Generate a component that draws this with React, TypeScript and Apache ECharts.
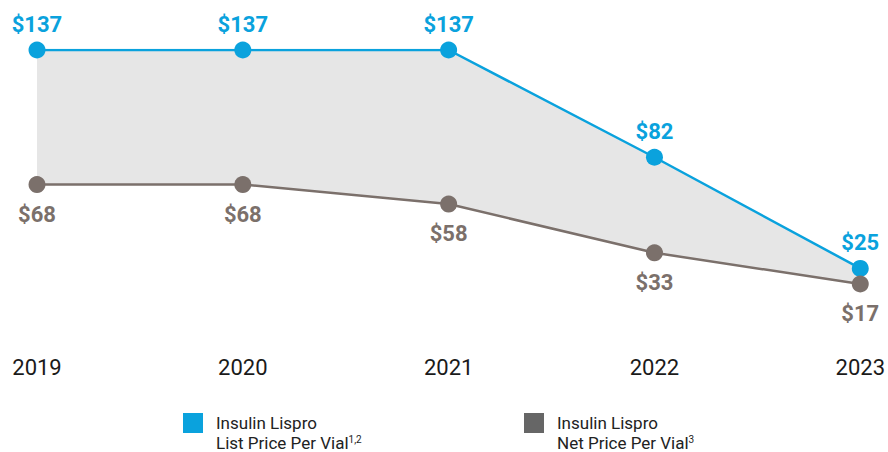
import React, { useEffect, useRef } from "react";
import * as echarts from "echarts";

const years = ["2019", "2020", "2021", "2022", "2023"];
const listPrice = [137, 137, 137, 82, 25];
const netPrice = [68, 68, 58, 33, 17];

const LIST_NAME = "Insulin Lispro List Price Per Vial";
const NET_NAME = "Insulin Lispro Net Price Per Vial";

const BLUE = "#0aa2dd";
const BROWN = "#7b706b";
const FONT = "Roboto, 'DejaVu Sans', sans-serif";

export default function App() {
  const ref = useRef<HTMLDivElement>(null);
  useEffect(() => {
    document.body.style.margin = "0";
    if (!ref.current) return;
    const chart = echarts.init(ref.current, undefined, { renderer: "svg" });
    const band = listPrice.map((v, i) => v - netPrice[i]);
    const legendText = {
      fontSize: 17,
      color: "#222",
      lineHeight: 20,
      fontFamily: FONT,
      padding: [20, 0, 0, 8],
      rich: {
        sup: { fontSize: 10, color: "#222", fontFamily: FONT, padding: [0, 0, 8, 0] },
      },
    };
    const fmt = (name: string) =>
      name === LIST_NAME
        ? "Insulin Lispro\nList Price Per Vial{sup|1,2}"
        : "Insulin Lispro\nNet Price Per Vial{sup|3}";
    chart.setOption({
      animation: false,
      grid: { left: 37, right: 27, top: 50, bottom: 168 },
      legend: [
        {
          data: [{ name: LIST_NAME, itemStyle: { color: BLUE } }],
          left: 178,
          top: 388,
          icon: "rect",
          itemWidth: 20,
          itemHeight: 20,
          selectedMode: false,
          formatter: fmt,
          textStyle: legendText,
        },
        {
          data: [{ name: NET_NAME, itemStyle: { color: "#666666" } }],
          left: 519,
          top: 388,
          icon: "rect",
          itemWidth: 20,
          itemHeight: 20,
          selectedMode: false,
          formatter: fmt,
          textStyle: legendText,
        },
      ],
      xAxis: {
        type: "category",
        data: years,
        boundaryGap: false,
        axisLine: { show: false },
        axisTick: { show: false },
        axisLabel: {
          margin: 72,
          fontSize: 22,
          color: "#1a1a1a",
          fontFamily: FONT,
          verticalAlign: "top",
        },
      },
      yAxis: {
        type: "value",
        min: Math.min(...netPrice),
        max: Math.max(...listPrice),
        show: false,
        splitLine: { show: false },
      },
      series: [
        {
          name: "band-base",
          type: "line",
          data: netPrice,
          stack: "band",
          symbol: "none",
          lineStyle: { opacity: 0 },
          silent: true,
          z: 1,
        },
        {
          name: "band-fill",
          type: "line",
          data: band,
          stack: "band",
          symbol: "none",
          lineStyle: { opacity: 0 },
          areaStyle: { color: "#e6e6e6", opacity: 1 },
          silent: true,
          z: 1,
        },
        {
          name: LIST_NAME,
          type: "line",
          data: listPrice,
          color: BLUE,
          symbol: "circle",
          symbolSize: 17,
          lineStyle: { width: 2.5, color: BLUE },
          itemStyle: { color: BLUE },
          z: 3,
          label: {
            show: true,
            position: "top",
            distance: 6,
            formatter: "${c}",
            fontSize: 22,
            fontWeight: "bold",
            color: BLUE,
            fontFamily: FONT,
          },
        },
        {
          name: NET_NAME,
          type: "line",
          data: netPrice,
          color: BROWN,
          symbol: "circle",
          symbolSize: 17,
          lineStyle: { width: 2.5, color: BROWN },
          itemStyle: { color: BROWN },
          z: 3,
          label: {
            show: true,
            position: "bottom",
            distance: 10,
            formatter: "${c}",
            fontSize: 22,
            fontWeight: "bold",
            color: BROWN,
            fontFamily: FONT,
          },
        },
      ],
    });
    return () => chart.dispose();
  }, []);
  return <div ref={ref} style={{ width: 888, height: 452 }} />;
}
